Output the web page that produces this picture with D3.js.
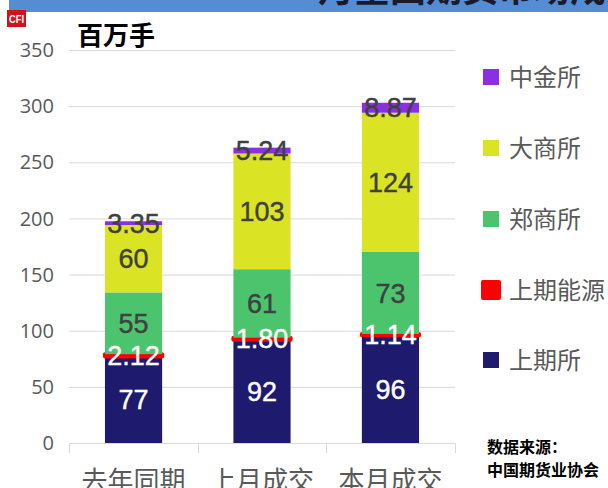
<!DOCTYPE html>
<html>
<head>
<meta charset="utf-8">
<script src="https://cdn.jsdelivr.net/npm/d3@7/dist/d3.min.js"></script>
<style>
  body { margin: 0; background: #fff; }
  svg { display: block; }
</style>
</head>
<body>
<div id="chart"></div>
<script>
// categories and series (bottom -> top of each stack)
var categories = ['去年同期', '上月成交', '本月成交'];
var shfe = [77, 92, 96];            // 上期所
var ine = [2.12, 1.80, 1.14];       // 上期能源
var czce = [55, 61, 73];            // 郑商所
var dce = [60, 103, 124];           // 大商所
var cffex = [3.35, 5.24, 8.87];     // 中金所
var yTicks = [0, 50, 100, 150, 200, 250, 300, 350];
var sourceLines = ['数据来源：', '中国期货业协会'];

var series = [
    { name: '上期所', values: shfe, color: '#1e1a6e', text: '#fff' },
    { name: '上期能源', values: ine, color: '#ff0000', text: '#fff', outline: true },
    { name: '郑商所', values: czce, color: '#4cc46e', text: '#404040' },
    { name: '大商所', values: dce, color: '#dbe325', text: '#404040' },
    { name: '中金所', values: cffex, color: '#8b2fe2', text: '#404040' }
];

var width = 608, height = 488;
var cjk = '"Noto Sans CJK SC", "Noto Sans", sans-serif';
var num = '"Liberation Sans", Arial, sans-serif';

var svg = d3.select('#chart').append('svg')
    .attr('width', width)
    .attr('height', height);

/* header strip, cut off at top */
svg.append('rect')
    .attr('x', 9).attr('y', 0)
    .attr('width', width - 9).attr('height', 12)
    .attr('fill', '#548dd4');
svg.append('text')
    .attr('x', 318).attr('y', 2)
    .style('font-family', cjk)
    .style('font-size', '36px')
    .style('font-weight', 'bold')
    .attr('fill', '#1a1a2a')
    .text('月全国期货市场成交');

/* logo */
svg.append('rect')
    .attr('x', 7).attr('y', 10)
    .attr('width', 19).attr('height', 17)
    .attr('fill', '#d0121b');
svg.append('text')
    .attr('x', 9).attr('y', 23)
    .attr('textLength', 15)
    .attr('lengthAdjust', 'spacingAndGlyphs')
    .style('font-family', num)
    .style('font-size', '11px')
    .style('font-weight', 'bold')
    .attr('fill', '#fff')
    .text('CFI');

/* scales */
var x = d3.scaleBand()
    .domain(categories)
    .range([69, 455])
    .paddingInner(0.555)
    .paddingOuter(0.28);

var y = d3.scaleLinear()
    .domain([0, 350])
    .range([443, 50]);

/* grid */
svg.append('g')
    .attr('class', 'grid')
    .attr('transform', 'translate(69,0)')
    .call(d3.axisLeft(y).tickValues(yTicks).tickSize(-386).tickFormat(''))
    .call(g => g.select('.domain').remove())
    .call(g => g.selectAll('line').attr('stroke', '#d9d9d9'));

/* y labels */
svg.append('g')
    .selectAll('text')
    .data(yTicks).enter()
    .append('text')
    .attr('x', 54)
    .attr('y', d => y(d))
    .attr('dy', '0.36em')
    .attr('text-anchor', 'end')
    .style('font-family', '"Open Sans", "Noto Sans", sans-serif')
    .style('font-size', '20px')
    .attr('fill', '#595959')
    .text(d => d);

/* stacks */
var stack = d3.stack()
    .keys(d3.range(series.length))
    .value((d, k) => series[k].values[d]);
var stacked = stack(d3.range(categories.length));

var layers = svg.append('g').selectAll('g')
    .data(stacked).enter()
    .append('g')
    .attr('fill', (d, i) => series[i].color)
    .attr('stroke', (d, i) => series[i].outline ? series[i].color : 'none')
    .attr('stroke-width', 4)
    .attr('stroke-linejoin', 'round');

layers.selectAll('rect')
    .data(d => d).enter()
    .append('rect')
    .attr('x', d => x(categories[d.data]))
    .attr('y', d => y(d[1]))
    .attr('width', x.bandwidth())
    .attr('height', d => y(d[0]) - y(d[1]));

/* bottom axis */
svg.append('g')
    .attr('transform', 'translate(0,443)')
    .call(d3.axisBottom(x).tickSize(0).tickFormat(''))
    .call(g => g.select('.domain').attr('stroke', '#d9d9d9'));
var edges = [69].concat(categories.map(c => x(c) + x.bandwidth() / 2 + x.step() / 2));
svg.append('g').selectAll('line')
    .data(edges).enter()
    .append('line')
    .attr('x1', d => Math.round(d) + 0.5).attr('x2', d => Math.round(d) + 0.5)
    .attr('y1', 443).attr('y2', 453)
    .attr('stroke', '#d9d9d9');

svg.append('g').selectAll('text')
    .data(categories).enter()
    .append('text')
    .attr('x', d => x(d) + x.bandwidth() / 2)
    .attr('y', 490)
    .attr('text-anchor', 'middle')
    .style('font-family', cjk)
    .style('font-size', '26px')
    .attr('fill', '#595959')
    .text(d => d);

/* value labels */
var labels = svg.append('g');
stacked.forEach(function(layer, i) {
    labels.selectAll(null)
        .data(layer).enter()
        .append('text')
        .attr('x', d => x(categories[d.data]) + x.bandwidth() / 2)
        .attr('y', d => y((d[0] + d[1]) / 2))
        .attr('dy', '0.36em')
        .attr('text-anchor', 'middle')
        .style('font-family', num)
        .style('font-size', '27px')
        .attr('fill', series[i].text)
        .attr('stroke', series[i].text)
        .attr('stroke-width', 0.4)
        .text(d => {
            var v = series[i].values[d.data];
            return v % 1 ? v.toFixed(2) : v;
        });
});

/* unit */
svg.append('text')
    .attr('x', 77).attr('y', 45)
    .style('font-family', cjk)
    .style('font-size', '26px')
    .style('font-weight', 'bold')
    .attr('fill', '#000')
    .text('百万手');

/* legend, top entry first */
var legendY = [77, 148, 219, 290, 360];
var legend = svg.append('g').selectAll('g')
    .data(series.slice().reverse()).enter()
    .append('g')
    .attr('transform', (d, i) => 'translate(483,' + legendY[i] + ')');
legend.append('rect')
    .attr('x', 0).attr('y', -8)
    .attr('width', 16).attr('height', 16)
    .attr('fill', d => d.color)
    .attr('stroke', d => d.outline ? d.color : 'none')
    .attr('stroke-width', 4)
    .attr('stroke-linejoin', 'round');
legend.append('text')
    .attr('x', 26)
    .attr('dy', '0.36em')
    .style('font-family', cjk)
    .style('font-size', '24px')
    .attr('fill', '#595959')
    .text(d => d.name);

/* source */
svg.append('g').selectAll('text')
    .data(sourceLines).enter()
    .append('text')
    .attr('x', 487)
    .attr('y', (d, i) => 453 + i * 23)
    .style('font-family', cjk)
    .style('font-size', '16px')
    .style('font-weight', 'bold')
    .attr('fill', '#000')
    .text(d => d);
</script>
</body>
</html>
